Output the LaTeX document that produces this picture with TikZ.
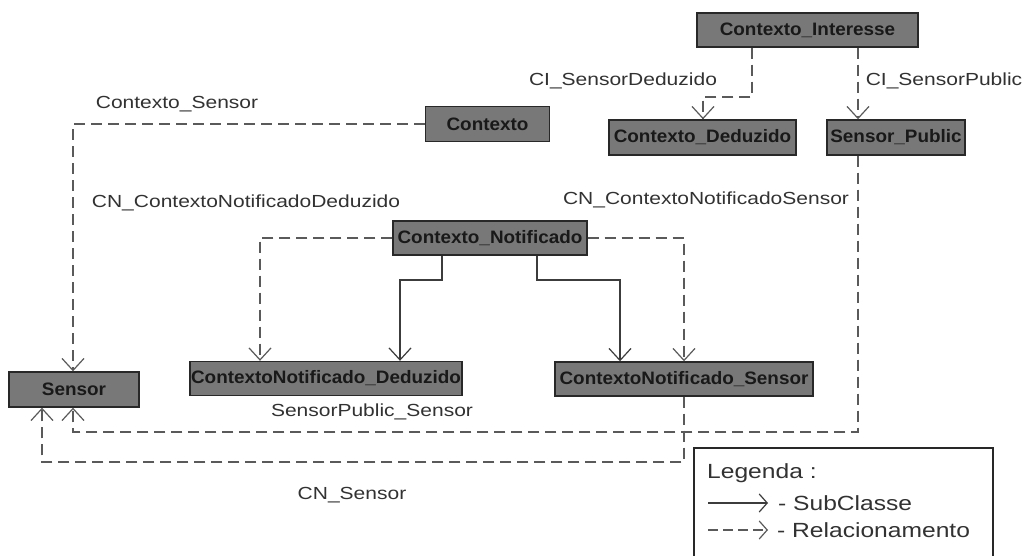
\documentclass[tikz,border=0pt]{standalone}
\usepackage{fontspec}
\setmainfont{Liberation Sans}
\newfontfamily\lblfont{Liberation Sans}[FakeStretch=1.2]
\newfontfamily\boxfont{Liberation Sans}[FakeStretch=1.05]
\usetikzlibrary{arrows.meta}
\definecolor{boxfill}{RGB}{120,120,120}
\definecolor{boxline}{RGB}{40,40,40}
\definecolor{linegray}{RGB}{90,90,90}
\definecolor{sublinegray}{RGB}{60,60,60}
\definecolor{txtgray}{RGB}{50,50,50}
\tikzset{
  cls/.style={draw=boxline, fill=boxfill, line width=1.4pt, inner sep=0pt,
    font=\boxfont\fontsize{18}{20}\selectfont\bfseries, text=black!90},
  lbl/.style={font=\lblfont\fontsize{17.5}{20}\selectfont, text=txtgray, inner sep=0pt},
  leg/.style={font=\lblfont\fontsize{20.5}{24}\selectfont, text=txtgray, inner sep=0pt, anchor=west},
  tip/.style={-{Straight Barb[length=12pt,width=22pt,line width=1.2pt]}},
  rel/.style={draw=linegray, line width=2pt, dash pattern=on 11pt off 6pt, tip},
  sub/.style={draw=sublinegray, line width=1.5pt, tip},
}
\begin{document}
\begin{tikzpicture}[x=1pt,y=-1pt]
\useasboundingbox (0,0) rectangle (1029,556);
\fill[white] (0,0) rectangle (1029,556);

% classes
\node[cls, minimum width=221pt, minimum height=34pt] (CI) at (807.5,30) {Contexto\_Interesse};
\node[cls, minimum width=187pt, minimum height=35pt] (CD) at (702.5,137.5) {Contexto\_Deduzido};
\node[cls, minimum width=138pt, minimum height=35pt] (SP) at (896,137.5) {Sensor\_Public};
\node[cls, minimum width=124pt, minimum height=35pt] (CX) at (487.5,124) {Contexto};
\node[cls, minimum width=194pt, minimum height=34pt] (CN) at (490,238) {Contexto\_Notificado};
\node[cls, minimum width=272pt, minimum height=34pt] (CND) at (326,378.5) {ContextoNotificado\_Deduzido};
\node[cls, minimum width=258pt, minimum height=34pt] (CNS) at (684,379) {ContextoNotificado\_Sensor};
\node[cls, minimum width=130pt, minimum height=35pt] (S) at (74,389.5) {Sensor};

% bend points
\coordinate (b1) at (752,97);
\coordinate (b1b) at (703,97);
\coordinate (b2) at (858,0);
\coordinate (b3) at (73,124);
\coordinate (b4) at (260,238);
\coordinate (b5) at (684,238);
\coordinate (b6a) at (442,280);
\coordinate (b6b) at (400,280);
\coordinate (b7a) at (537,280);
\coordinate (b7b) at (620,280);
\coordinate (b8a) at (858,432);
\coordinate (b8b) at (73,432);
\coordinate (b9a) at (684,462);
\coordinate (b9b) at (42,462);

% relationships (dashed)
\draw[rel] (CI.south -| b1) -- (b1) -- (b1b) -- (CD.north -| b1b);
\draw[rel] (CI.south -| b2) -- (SP.north -| b2);
\draw[rel] (CX.west) -- (b3) -- (S.north -| b3);
\draw[rel] (CN.west) -- (b4) -- (CND.north -| b4);
\draw[rel] (CN.east) -- (b5) -- (CNS.north -| b5);
\draw[rel] (SP.south -| b8a) -- (b8a) -- (b8b) -- (S.south -| b8b);
\draw[rel] (CNS.south -| b9a) -- (b9a) -- (b9b) -- (S.south -| b9b);

% subclasses (solid)
\draw[sub] (CN.south -| b6a) -- (b6a) -- (b6b) -- (CND.north -| b6b);
\draw[sub] (CN.south -| b7a) -- (b7a) -- (b7b) -- (CNS.north -| b7b);

% labels
\node[lbl] (l1) at (623,81) {CI\_SensorDeduzido};
\node[lbl] (l2) at (944,81) {CI\_SensorPublic};
\node[lbl] (l3) at (177,104) {Contexto\_Sensor};
\node[lbl] (l4) at (246,203) {CN\_ContextoNotificadoDeduzido};
\node[lbl] (l5) at (706,200) {CN\_ContextoNotificadoSensor};
\node[lbl] (l6) at (372,412) {SensorPublic\_Sensor};
\node[lbl] (l7) at (352,495) {CN\_Sensor};

% legend
\draw[draw=boxline, line width=1.4pt] (694,560) -- (694,448) -- (993,448) -- (993,560);
\node[leg] (lg0) at (707,473) {Legenda :};
\coordinate (la1) at (708,503);
\coordinate (la2) at (768,503);
\coordinate (lb1) at (708,530);
\coordinate (lb2) at (768,530);
\draw[draw=sublinegray, line width=1.4pt, -{Straight Barb[length=8pt,width=18pt,line width=1.2pt]}] (la1) -- (la2);
\draw[draw=linegray, line width=1.6pt, dash pattern=on 10pt off 5pt, -{Straight Barb[length=8pt,width=18pt,line width=1.2pt]}] (lb1) -- (lb2);
\node[leg] (lg1) at (778,503) {- SubClasse};
\node[leg] (lg2) at (777,530) {- Relacionamento};
\end{tikzpicture}
\end{document}
